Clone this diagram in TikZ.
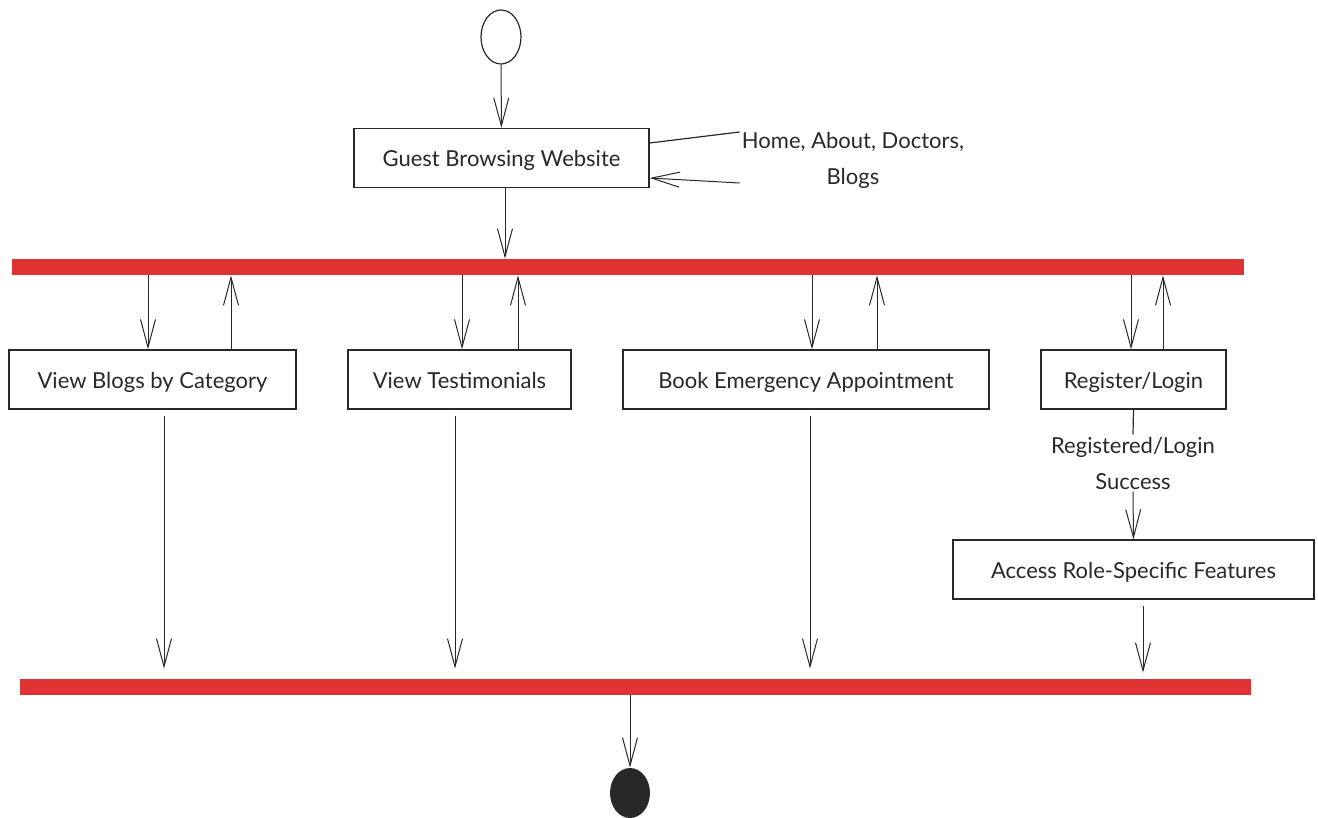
\documentclass[tikz,border=0pt]{standalone}
\usepackage{fontspec}
\setmainfont{Lato}
\usetikzlibrary{arrows.meta,shapes.geometric}
\definecolor{barred}{RGB}{224,50,50}
\definecolor{ink}{RGB}{40,40,40}
\tikzset{
  actbox/.style={draw=ink, line width=0.7pt, minimum height=29.5pt, inner sep=2pt, text height=10pt, text depth=1pt},
  syncbar/.style={fill=barred, draw=none, minimum height=8pt, inner sep=0pt},
  arr/.style={ink, line width=0.5pt, -{Straight Barb[length=14pt,width=7.5pt]}},
  note/.style={align=center, inner sep=1pt}
}
\begin{document}
\begin{tikzpicture}[x=0.5pt, y=-0.5pt, font=\fontsize{11}{18}\selectfont, text=ink]
    \useasboundingbox (0,0) rectangle (1318,818);
    % start and end
    \node[ellipse, draw=ink, line width=0.6pt, minimum width=20pt, minimum height=27pt] (start) at (501,37) {};
    \node[ellipse, fill=ink, minimum width=20pt, minimum height=25pt] (stop) at (630,793) {};
    % fork / join bars
    \node[syncbar, minimum width=616pt] (topbar) at (628,267) {};
    \node[syncbar, minimum width=615.5pt] (botbar) at (635.5,687) {};
    % activities
    \node[actbox, minimum width=147.5pt] (guest) at (501.5,158) {Guest Browsing Website};
    \node[actbox, minimum width=143.5pt] (blogs) at (152.5,379.5) {View Blogs by Category};
    \node[actbox, minimum width=111.5pt] (testi) at (459.5,379.5) {View Testimonials};
    \node[actbox, minimum width=183pt] (emerg) at (806,379.5) {Book Emergency Appointment};
    \node[actbox, minimum width=92.5pt] (reg) at (1133.5,379.5) {Register/Login};
    \node[actbox, minimum width=180.5pt] (access) at (1133.5,569.5) {Access Role-Specific Features};
    \node[note] (pages) at (853,160) {Home, About, Doctors,\\Blogs};
    \node[note] (regok) at (1133,463) {Registered/Login\\Success};
    % top part
    \draw[arr] (start) -- (guest);
    \draw[ink, line width=0.6pt] (guest.east |- 0,143) -- (pages.west |- 0,132);
    \draw[arr] (pages.west |- 0,183) -- (guest.east |- 0,178);
    \draw[arr] (505,0 |- guest.south) -- (505,0 |- topbar.north);
    % fork to activities and back
    \draw[arr] (148,0 |- topbar.south) -- (148,0 |- blogs.north);
    \draw[arr] (231,0 |- blogs.north) -- (231,0 |- topbar.south);
    \draw[arr] (462,0 |- topbar.south) -- (462,0 |- testi.north);
    \draw[arr] (518,0 |- testi.north) -- (518,0 |- topbar.south);
    \draw[arr] (812,0 |- topbar.south) -- (812,0 |- emerg.north);
    \draw[arr] (877,0 |- emerg.north) -- (877,0 |- topbar.south);
    \draw[arr] (1131,0 |- topbar.south) -- (1131,0 |- reg.north);
    \draw[arr] (1163,0 |- reg.north) -- (1163,0 |- topbar.south);
    % activities to join
    \draw[arr, shorten <=3pt, shorten >=5pt] (164,0 |- blogs.south) -- (164,0 |- botbar.north);
    \draw[arr, shorten <=3pt, shorten >=5pt] (455,0 |- testi.south) -- (455,0 |- botbar.north);
    \draw[arr, shorten <=3pt, shorten >=5pt] (810,0 |- emerg.south) -- (810,0 |- botbar.north);
    \draw[ink, line width=0.6pt] (reg.south) -- (regok.north);
    \draw[arr] (regok.south) -- (access.north);
    \draw[arr, shorten <=3pt, shorten >=3pt] (1143,0 |- access.south) -- (1143,0 |- botbar.north);
    \draw[arr] (630,0 |- botbar.south) -- (stop);
\end{tikzpicture}
\end{document}
